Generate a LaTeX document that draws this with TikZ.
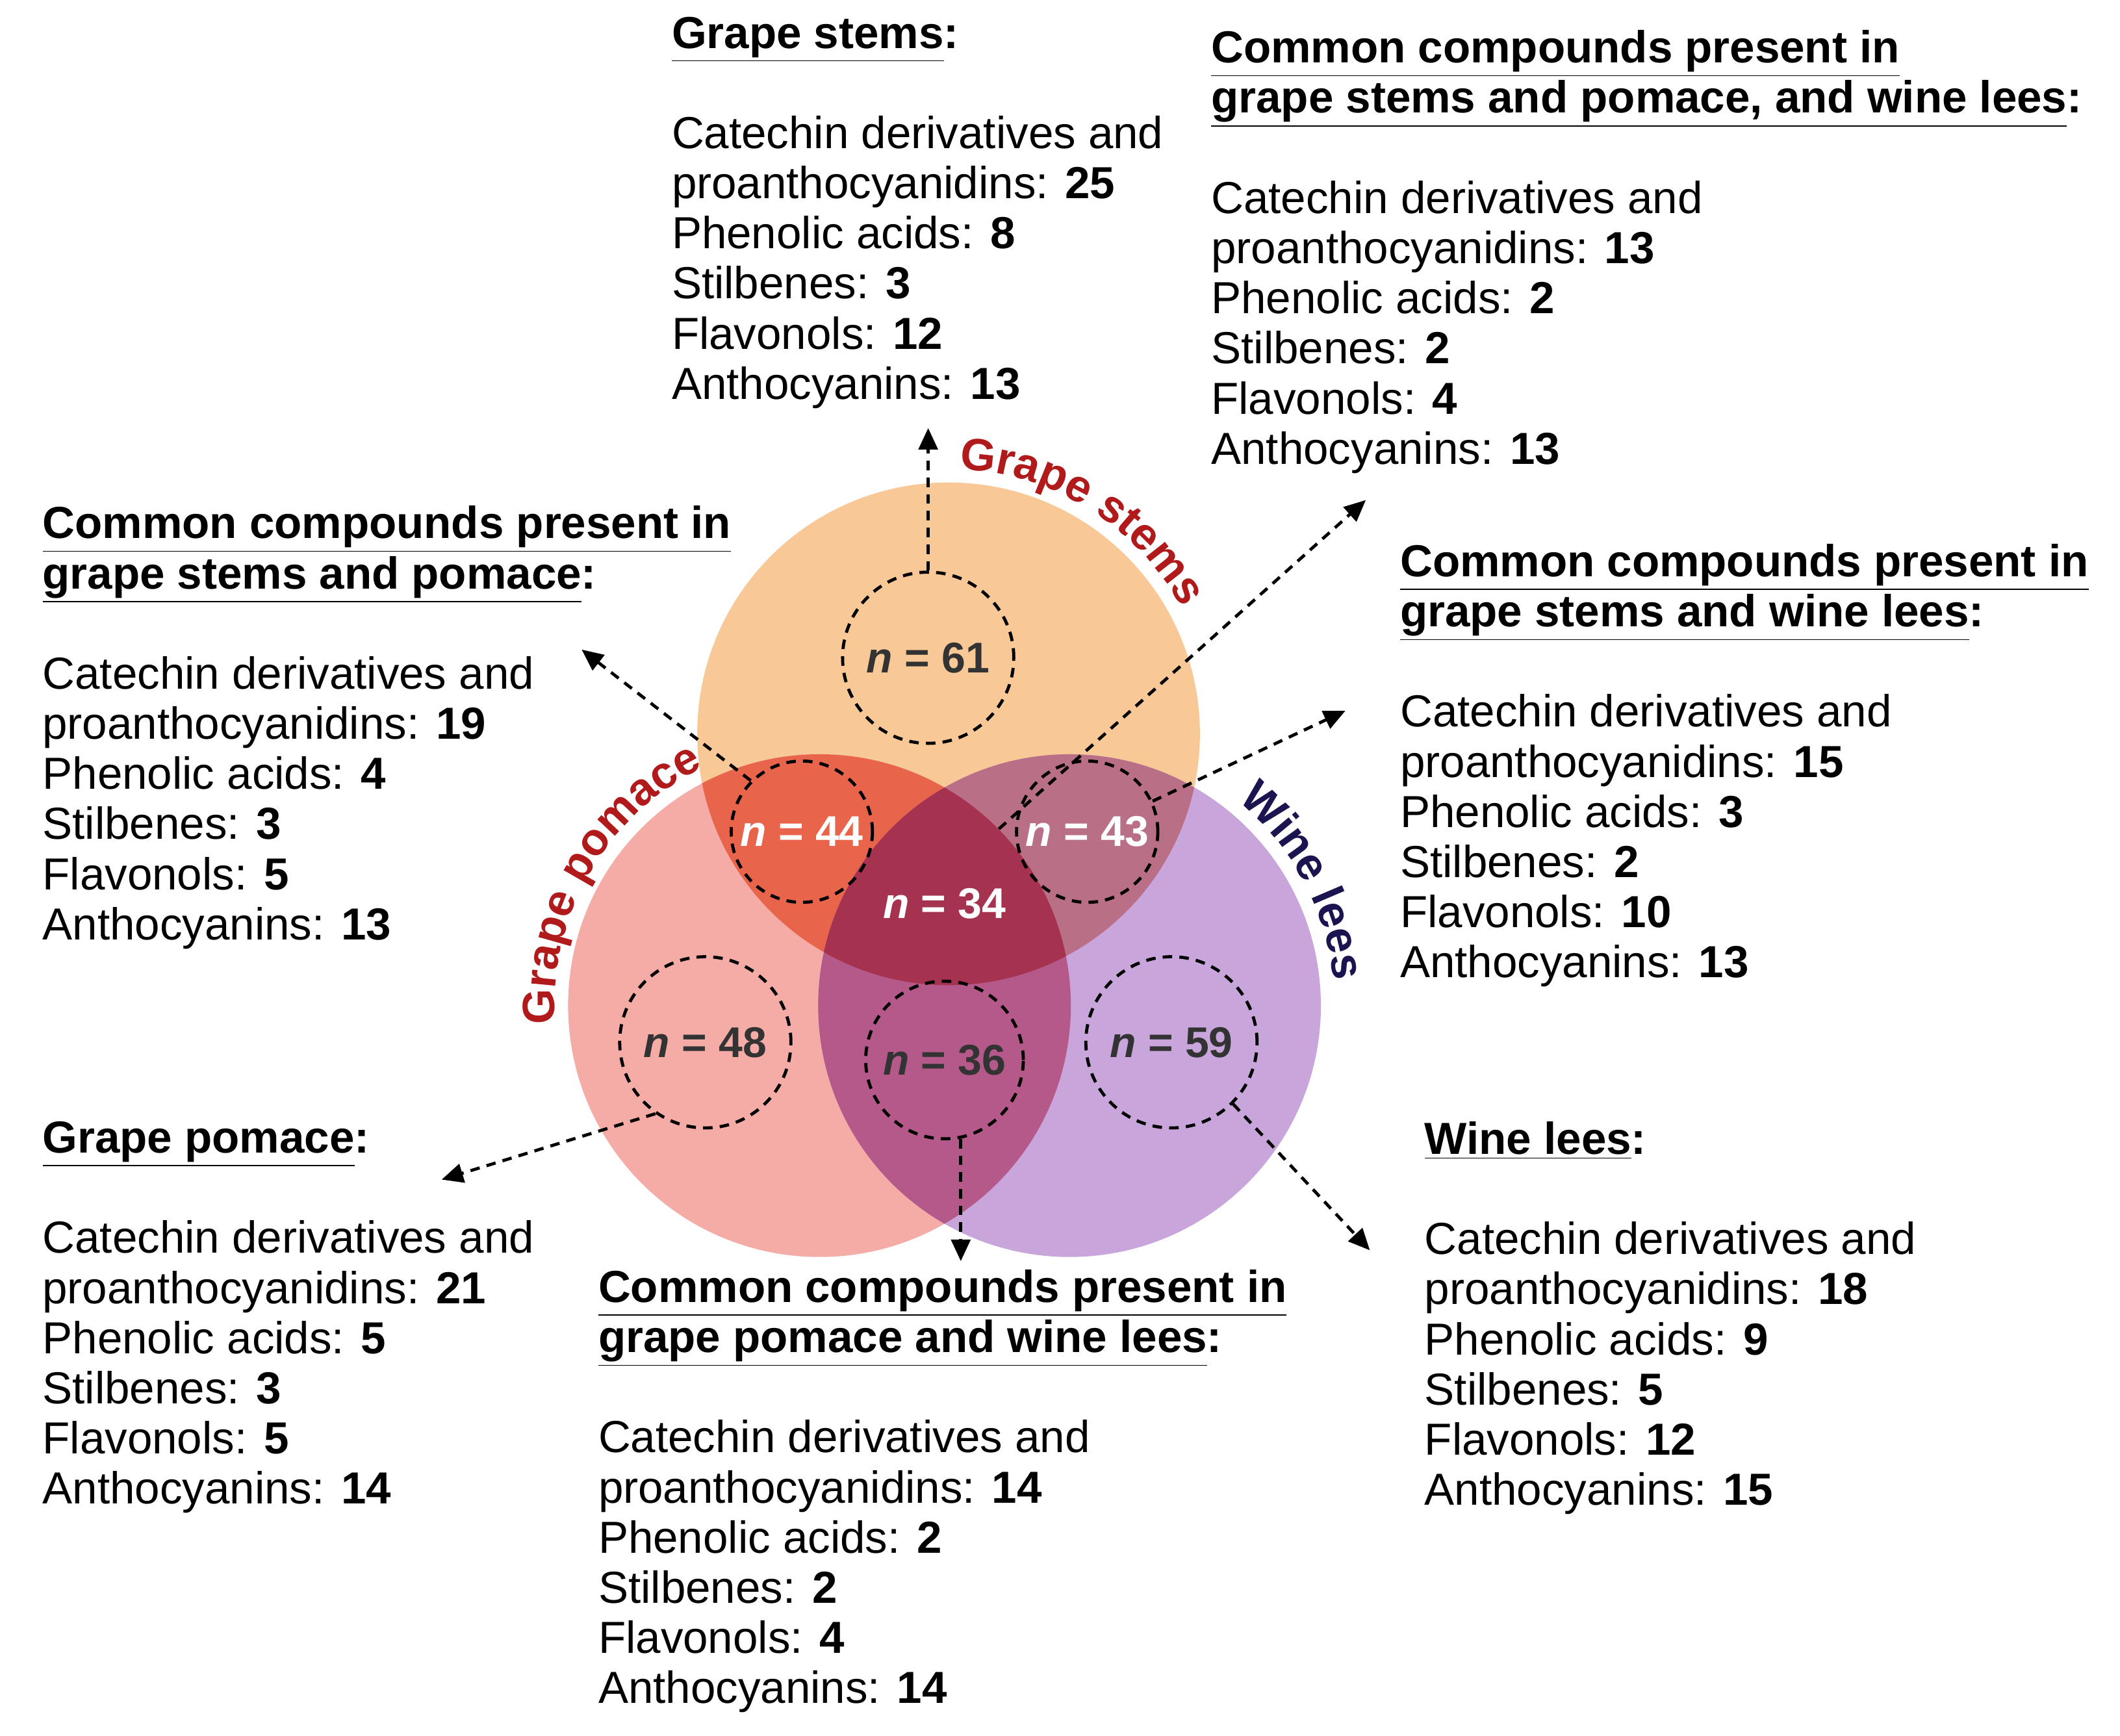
\documentclass[tikz,border=0pt]{standalone}
\usepackage{fontspec}
\setmainfont{Liberation Sans}
\usetikzlibrary{decorations.text,arrows.meta,calc}
\definecolor{cS}{HTML}{F8C896}
\definecolor{cP}{HTML}{F5ACA6}
\definecolor{cL}{HTML}{C8A5DB}
\definecolor{cSP}{HTML}{E8654B}
\definecolor{cSL}{HTML}{B96F86}
\definecolor{cPL}{HTML}{B5588A}
\definecolor{cC}{HTML}{A53350}
\definecolor{lblred}{HTML}{B01A1A}
\definecolor{lblnavy}{HTML}{1A1450}
\definecolor{ngray}{HTML}{333333}
\begin{document}
\begin{tikzpicture}[x=0.02cm,y=0.02cm,
  blk/.style={anchor=north west,align=left,inner sep=0pt,font=\fontsize{18.8}{21}\selectfont},
  nlab/.style={font=\fontsize{18}{21}\selectfont\bfseries},
  dc/.style={draw,dashed,line width=1.3pt,dash pattern=on 4pt off 3pt},
  arr/.style={dashed,line width=1.3pt,dash pattern=on 4pt off 3pt,-{Triangle[length=9pt,width=8pt]}}]
\useasboundingbox (0,0) rectangle (1560,-1277);
\def\R{3.7cm}
\coordinate (S) at (698,-540);
\coordinate (P) at (603,-740);
\coordinate (L) at (787,-740);
\fill[cS] (S) circle[radius=\R];
\fill[cP] (P) circle[radius=\R];
\fill[cL] (L) circle[radius=\R];
\begin{scope}\clip (S) circle[radius=\R]; \fill[cSP] (P) circle[radius=\R]; \fill[cSL] (L) circle[radius=\R];\end{scope}
\begin{scope}\clip (P) circle[radius=\R]; \fill[cPL] (L) circle[radius=\R];\end{scope}
\begin{scope}\clip (S) circle[radius=\R]; \clip (P) circle[radius=\R]; \fill[cC] (L) circle[radius=\R];\end{scope}
% dashed circles
\node[dc,circle,minimum size=2.52cm] (c61) at (683,-484) {};
\node[dc,circle,minimum size=2.08cm] (c44) at (590,-612) {};
\node[dc,circle,minimum size=2.08cm] (c43) at (800,-612) {};
\node[dc,circle,minimum size=2.32cm] (c36) at (695,-780) {};
\node[dc,circle,minimum size=2.52cm] (c48) at (519,-767) {};
\node[dc,circle,minimum size=2.52cm] (c59) at (862,-767) {};
\node[nlab,text=ngray] at (c61) {\textit{n} = 61};
\node[nlab,text=white] at (c44) {\textit{n} = 44};
\node[nlab,text=white] at (c43) {\textit{n} = 43};
\node[nlab,text=white] (c34) at (695,-665) {\textit{n} = 34};
\node[nlab,text=ngray] at (c36) {\textit{n} = 36};
\node[nlab,text=ngray] at (c48) {\textit{n} = 48};
\node[nlab,text=ngray] at (c59) {\textit{n} = 59};
% curved labels
\path[decorate,decoration={text along path,text align=center,text={|\fontsize{19}{21}\selectfont\bfseries\color{lblred}|Grape stems}}]
  ($(S)+(100:3.9cm)$) arc[start angle=100,end angle=16,radius=3.9cm];
\path[decorate,decoration={text along path,text align=center,text={|\fontsize{19}{21}\selectfont\bfseries\color{lblred}|Grape pomace}}]
  ($(P)+(196:3.9cm)$) arc[start angle=196,end angle=104,radius=3.9cm];
\path[decorate,decoration={text along path,text align=center,text={|\fontsize{19}{21}\selectfont\bfseries\color{lblnavy}|Wine lees}}]
  ($(L)+(72:3.9cm)$) arc[start angle=72,end angle=-16,radius=3.9cm];
% arrow ends
\coordinate (e1) at (683,-315);
\coordinate (e2) at (428,-478);
\coordinate (e3) at (1005,-368);
\coordinate (e4) at (990,-523);
\coordinate (e5) at (325,-868);
\coordinate (e6) at (707,-928);
\coordinate (e7) at (1008,-920);
\coordinate (s3) at (735,-610);
\coordinate (s6) at (707,-838);
\draw[arr] (c61.north) -- (e1);
\draw[arr] (c44.135) -- (e2);
\draw[arr] (s3) -- (e3);
\draw[arr] (c43.25) -- (e4);
\draw[arr] (c48.235) -- (e5);
\draw[arr] (s6) -- (e6);
\draw[arr] (c59.-45) -- (e7);
% text blocks
\node[blk] (t1) at (494,-12) {\textbf{\underline{Grape stems}:}\\[21pt]
Catechin derivatives and\\ proanthocyanidins: \textbf{25}\\ Phenolic acids: \textbf{8}\\ Stilbenes: \textbf{3}\\ Flavonols: \textbf{12}\\ Anthocyanins: \textbf{13}};
\node[blk] (t2) at (891,-22) {\textbf{\underline{Common compounds present in}}\\ \textbf{\underline{grape stems and pomace, and wine lees}:}\\[21pt]
Catechin derivatives and\\ proanthocyanidins: \textbf{13}\\ Phenolic acids: \textbf{2}\\ Stilbenes: \textbf{2}\\ Flavonols: \textbf{4}\\ Anthocyanins: \textbf{13}};
\node[blk] (t3) at (31,-372) {\textbf{\underline{Common compounds present in}}\\ \textbf{\underline{grape stems and pomace}:}\\[21pt]
Catechin derivatives and\\ proanthocyanidins: \textbf{19}\\ Phenolic acids: \textbf{4}\\ Stilbenes: \textbf{3}\\ Flavonols: \textbf{5}\\ Anthocyanins: \textbf{13}};
\node[blk] (t4) at (1030,-400) {\textbf{\underline{Common compounds present in}}\\ \textbf{\underline{grape stems and wine lees}:}\\[21pt]
Catechin derivatives and\\ proanthocyanidins: \textbf{15}\\ Phenolic acids: \textbf{3}\\ Stilbenes: \textbf{2}\\ Flavonols: \textbf{10}\\ Anthocyanins: \textbf{13}};
\node[blk] (t5) at (31,-825) {\textbf{\underline{Grape pomace}:}\\[21pt]
Catechin derivatives and\\ proanthocyanidins: \textbf{21}\\ Phenolic acids: \textbf{5}\\ Stilbenes: \textbf{3}\\ Flavonols: \textbf{5}\\ Anthocyanins: \textbf{14}};
\node[blk] (t6) at (440,-934) {\textbf{\underline{Common compounds present in}}\\ \textbf{\underline{grape pomace and wine lees}:}\\[21pt]
Catechin derivatives and\\ proanthocyanidins: \textbf{14}\\ Phenolic acids: \textbf{2}\\ Stilbenes: \textbf{2}\\ Flavonols: \textbf{4}\\ Anthocyanins: \textbf{14}};
\node[blk] (t7) at (1048,-825) {\textbf{\underline{Wine lees}:}\\[21pt]
Catechin derivatives and\\ proanthocyanidins: \textbf{18}\\ Phenolic acids: \textbf{9}\\ Stilbenes: \textbf{5}\\ Flavonols: \textbf{12}\\ Anthocyanins: \textbf{15}};
\end{tikzpicture}
\end{document}
